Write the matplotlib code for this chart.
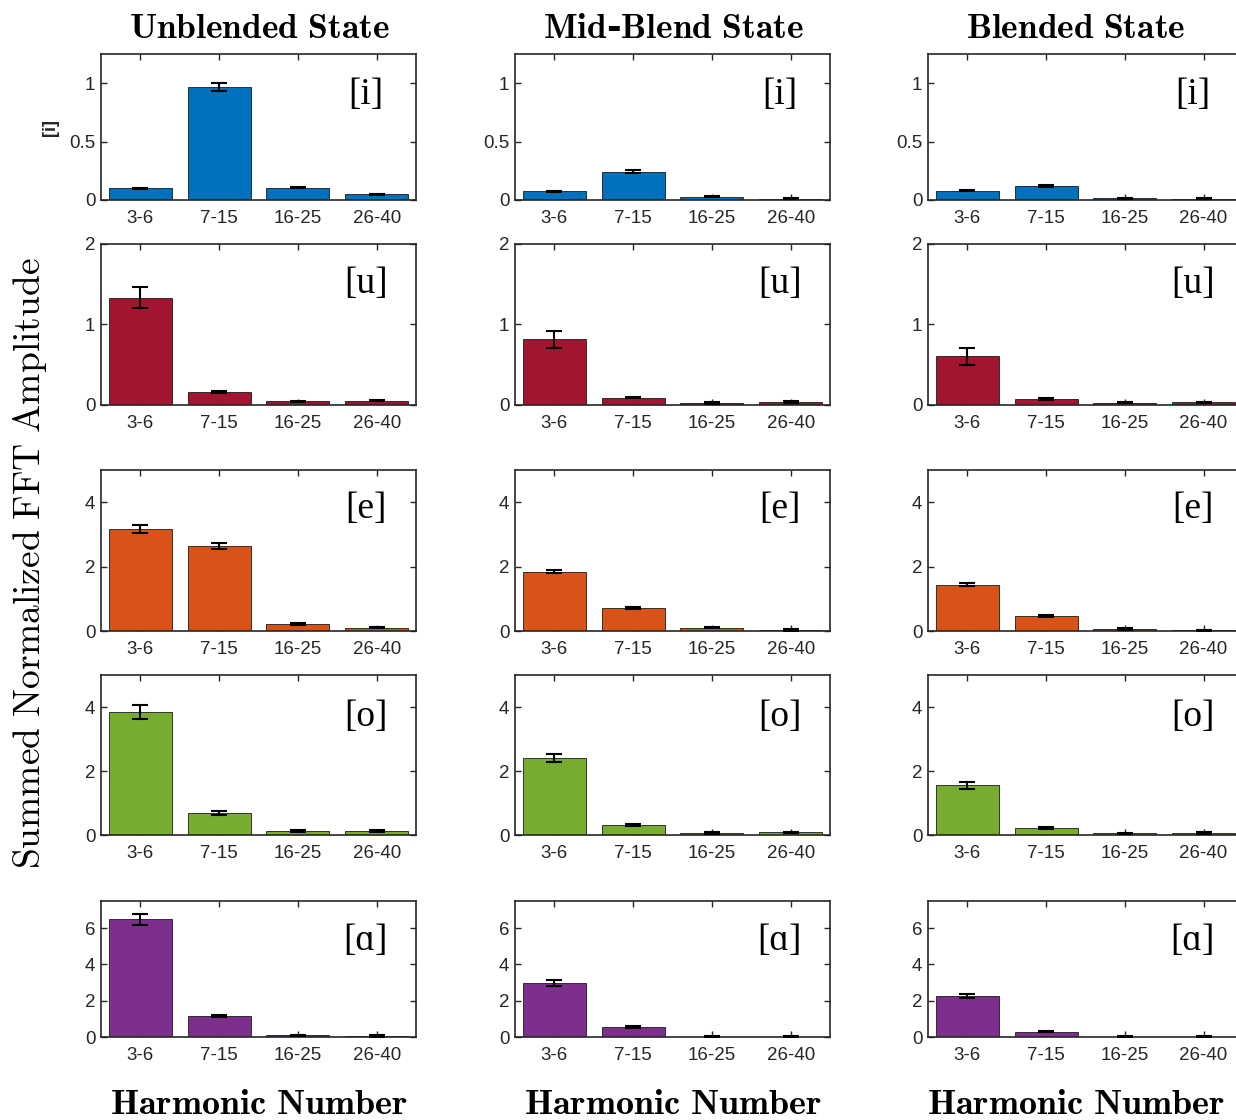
import matplotlib
matplotlib.use("Agg")
import matplotlib.pyplot as plt
import numpy as np
from matplotlib.ticker import FuncFormatter

plt.rcParams['mathtext.fontset'] = 'cm'
plt.rcParams['font.family'] = ['Liberation Sans', 'DejaVu Sans']

# ---------------- data ----------------
harmonic_bins = ['3-6', '7-15', '16-25', '26-40']
states = ['Unblended State', 'Mid-Blend State', 'Blended State']
vowels = ['[i]', '[u]', '[e]', '[o]', '[ɑ]']

# values per vowel: [unblended, mid-blend, blended]
i_vals = [[0.10, 0.968, 0.106, 0.049],
          [0.075, 0.244, 0.026, 0.011],
          [0.08, 0.12, 0.014, 0.009]]
i_errs = [[0.006, 0.036, 0.006, 0.005],
          [0.004, 0.012, 0.004, 0.004],
          [0.004, 0.01, 0.004, 0.004]]

u_vals = [[1.333, 0.167, 0.046, 0.054],
          [0.816, 0.092, 0.025, 0.038],
          [0.604, 0.071, 0.030, 0.033]]
u_errs = [[0.13, 0.012, 0.008, 0.008],
          [0.105, 0.01, 0.008, 0.008],
          [0.105, 0.01, 0.008, 0.008]]

e_vals = [[3.17, 2.635, 0.23, 0.10],
          [1.84, 0.72, 0.10, 0.03],
          [1.44, 0.47, 0.06, 0.02]]
e_errs = [[0.13, 0.10, 0.03, 0.02],
          [0.05, 0.03, 0.02, 0.02],
          [0.04, 0.03, 0.02, 0.02]]

o_vals = [[3.84, 0.69, 0.125, 0.125],
          [2.40, 0.31, 0.06, 0.08],
          [1.56, 0.22, 0.05, 0.06]]
o_errs = [[0.21, 0.05, 0.03, 0.03],
          [0.12, 0.03, 0.02, 0.02],
          [0.11, 0.02, 0.02, 0.02]]

a_vals = [[6.50, 1.15, 0.09, 0.05],
          [2.97, 0.54, 0.02, 0.02],
          [2.27, 0.30, 0.01, 0.01]]
a_errs = [[0.30, 0.06, 0.04, 0.04],
          [0.15, 0.04, 0.03, 0.03],
          [0.10, 0.04, 0.02, 0.02]]

all_vals = [i_vals, u_vals, e_vals, o_vals, a_vals]
all_errs = [i_errs, u_errs, e_errs, o_errs, a_errs]

colors = ['#0072BD', '#A2142F', '#D95319', '#77AC30', '#7E2F8E']
ymax = [1.25, 2, 5, 5, 7.5]
yticks = [[0, 0.5, 1], [0, 1, 2], [0, 2, 4], [0, 2, 4], [0, 2, 4, 6]]

# ---------------- layout (pixels) ----------------
W, H = 1236, 1120
col_left = [101, 515, 928]
col_text_center = [259, 673, 1076]
ax_w = 315
row_tb = [(54, 200), (244, 405), (470, 631), (675, 835), (901, 1037)]
label_pos = [(0.84, 0.72), (0.84, 0.755), (0.84, 0.76), (0.84, 0.74), (0.84, 0.71)]

fig = plt.figure(figsize=(W / 100, H / 100), dpi=100)
spine_c = '#262626'

fmt = FuncFormatter(lambda v, p: ('%g' % v))

for r in range(5):
    top, bot = row_tb[r]
    for c in range(3):
        ax = fig.add_axes([col_left[c] / W, 1 - bot / H, ax_w / W, (bot - top) / H])
        x = np.arange(1, 5)
        ax.bar(x, all_vals[r][c], width=0.8, color=colors[r],
               edgecolor='#1a1a1a', linewidth=0.6, zorder=2)
        ax.errorbar(x, all_vals[r][c], yerr=all_errs[r][c], fmt='none',
                    ecolor='black', elinewidth=1.5, capsize=6, capthick=1.5, zorder=3)
        ax.set_xlim(0.5, 4.5)
        ax.set_ylim(0, ymax[r])
        ax.set_xticks(x)
        ax.set_xticklabels(harmonic_bins)
        ax.set_yticks(yticks[r])
        ax.yaxis.set_major_formatter(fmt)
        ax.tick_params(direction='in', top=True, right=True, length=4,
                       width=1, colors=spine_c, labelsize=13.5)
        ax.tick_params(axis='x', pad=7)
        ax.tick_params(axis='y', pad=4)
        for s in ax.spines.values():
            s.set_color(spine_c)
            s.set_linewidth(1.2)
        lx, ly = label_pos[r]
        ax.text(lx, ly, vowels[r], transform=ax.transAxes, ha='center', va='center',
                fontsize=27, family=['Liberation Serif', 'DejaVu Serif'], color='black')

# column titles and x labels
for c in range(3):
    cx = col_text_center[c] / W
    if c == 1:
        title = r'$\mathbf{Mid}$-$\mathbf{Blend\ State}$'
    else:
        title = r'$\mathbf{' + states[c].replace(' ', r'\ ') + '}$'
    fig.text(cx, 1 - 28 / H, title, ha='center', va='center', fontsize=25.5,
             family='DejaVu Serif', fontweight='bold')
    fig.text(cx, 1 - 1104 / H, r'$\mathbf{Harmonic\ Number}$', ha='center', va='center',
             fontsize=26)

fig.text(30 / W, 1 - 563 / H, r'$\mathrm{Summed\ Normalized\ FFT\ Amplitude}$',
         rotation=90, ha='center', va='center', fontsize=27)
fig.text(50 / W, 1 - 127 / H, '[i]', rotation=90, ha='center', va='center',
         fontsize=13, fontweight='bold', color=spine_c)

fig.savefig('out.png', dpi=100)
